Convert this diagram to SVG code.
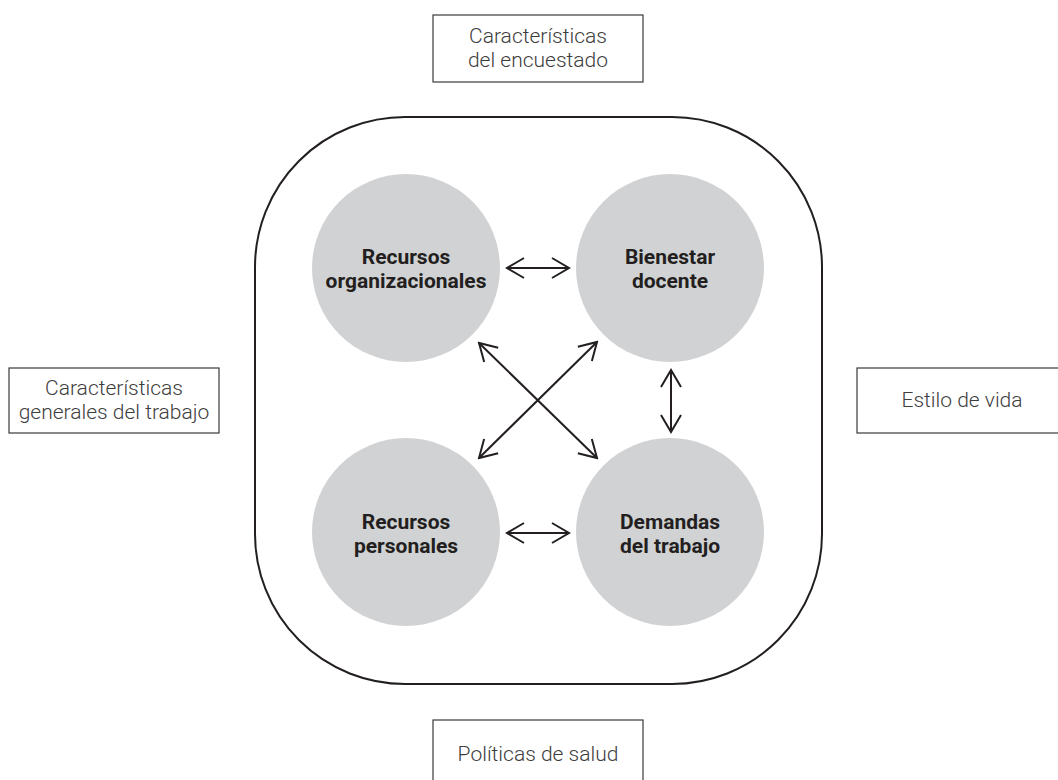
<svg xmlns="http://www.w3.org/2000/svg" width="1058" height="780" viewBox="0 0 1058 780">
<style>
.box{fill:#fff;stroke:#3a3a3a;stroke-width:1.2}
.lbl{font-family:Roboto,"Liberation Sans",sans-serif;font-weight:300;font-size:21px;fill:#3d3d3d;text-anchor:middle}
.circ{fill:#d1d2d4}
.clbl{font-family:Roboto,"Liberation Sans",sans-serif;font-weight:700;font-size:21px;fill:#231f20;text-anchor:middle}
.con{stroke:#231f20;stroke-width:2;fill:none;marker-start:url(#ah);marker-end:url(#ah)}
</style>
<defs>
<marker id="ah" viewBox="-20 -12 22 24" refX="0" refY="0" markerWidth="22" markerHeight="24" markerUnits="userSpaceOnUse" orient="auto-start-reverse">
<path d="M-17,-10 L0,0 L-17,10" fill="none" stroke="#231f20" stroke-width="2"/>
</marker>
</defs>
<rect width="1058" height="780" fill="#fff"/>
<g id="frame"><rect x="255" y="117" width="567" height="567" rx="150" ry="150" fill="none" stroke="#231f20" stroke-width="2"/></g>
<g id="top-box"><rect class="box" x="433" y="15" width="210" height="67"/><text class="lbl" x="538" y="43">Características</text><text class="lbl" x="538" y="67">del encuestado</text></g>
<g id="left-box"><rect class="box" x="9" y="368" width="210" height="65"/><text class="lbl" x="114" y="395">Características</text><text class="lbl" x="114" y="419">generales del trabajo</text></g>
<g id="right-box"><rect class="box" x="857" y="368" width="215" height="65"/><text class="lbl" x="962" y="407">Estilo de vida</text></g>
<g id="bottom-box"><rect class="box" x="433" y="720" width="210" height="80"/><text class="lbl" x="538" y="761">Políticas de salud</text></g>
<g id="n-org"><circle class="circ" cx="406" cy="268" r="94"/><text class="clbl" x="406" y="264">Recursos</text><text class="clbl" x="406" y="288">organizacionales</text></g>
<g id="n-bien"><circle class="circ" cx="670" cy="268" r="94"/><text class="clbl" x="670" y="264">Bienestar</text><text class="clbl" x="670" y="288">docente</text></g>
<g id="n-pers"><circle class="circ" cx="406" cy="532" r="94"/><text class="clbl" x="406" y="529">Recursos</text><text class="clbl" x="406" y="553">personales</text></g>
<g id="n-dem"><circle class="circ" cx="670" cy="532" r="94"/><text class="clbl" x="670" y="529">Demandas</text><text class="clbl" x="670" y="553">del trabajo</text></g>
<g id="connectors">
<line class="con" x1="507" y1="268" x2="569" y2="268"/>
<line class="con" x1="507" y1="533" x2="569" y2="533"/>
<line class="con" x1="671" y1="370" x2="671" y2="432"/>
<line class="con" x1="479" y1="343" x2="597" y2="458"/>
<line class="con" x1="597" y1="342" x2="479" y2="458"/>
</g>
</svg>
